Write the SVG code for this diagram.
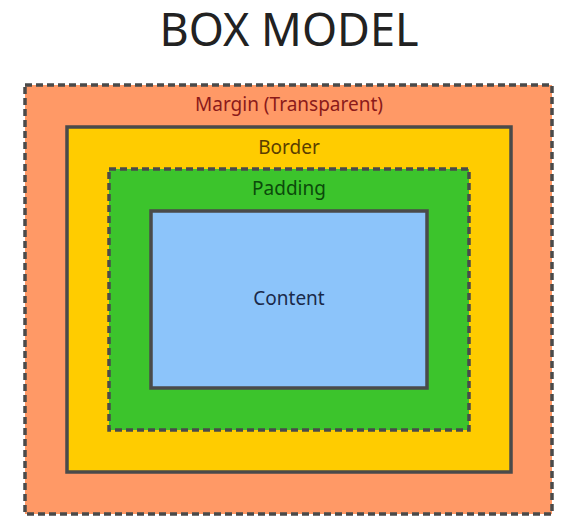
<svg xmlns="http://www.w3.org/2000/svg" width="570" height="532" viewBox="0 0 570 532" style="background:#ffffff">
<style>
text{font-family:"Noto Sans","DejaVu Sans",sans-serif;text-anchor:middle}
.lbl{font-size:19px}
.box{stroke:#4a4a4a;stroke-width:3.5}
.dash{stroke-dasharray:7 4}
</style>
<text x="289" y="46" font-family="'Liberation Sans',Arial,sans-serif" font-size="45" fill="#222222">BOX MODEL</text>
<g id="margin">
<rect class="box dash" x="25" y="85" width="527" height="429" fill="#FF9966"/>
<text class="lbl" x="289" y="111" fill="#8B1A1A">Margin (Transparent)</text>
</g>
<g id="border">
<rect class="box" x="67" y="127" width="444" height="345" fill="#FFCC00"/>
<text class="lbl" x="289" y="154" fill="#5A3E00">Border</text>
</g>
<g id="padding">
<rect class="box dash" x="109" y="169" width="360" height="261" fill="#3CC42C"/>
<text class="lbl" x="289" y="195" fill="#0B4A0B">Padding</text>
</g>
<g id="content">
<rect class="box" x="151" y="211" width="276" height="177" fill="#8CC4FA"/>
<text class="lbl" x="289" y="305" fill="#1A2A4A">Content</text>
</g>
<g id="connectors"></g>
</svg>
